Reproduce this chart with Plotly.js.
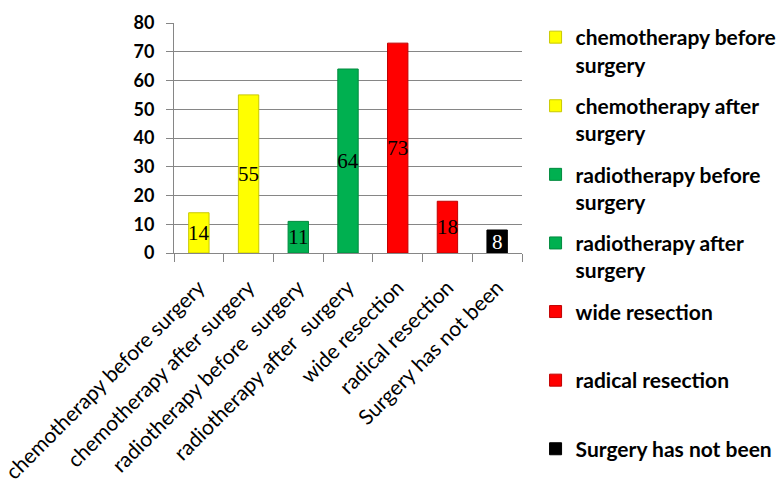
<!DOCTYPE html>
<html>
<head>
<meta charset="utf-8">
<script src="https://cdn.plot.ly/plotly-3.0.1.min.js"></script>
<style>html,body{margin:0;padding:0;background:#fff;}#chart{width:782px;height:495px;}</style>
</head>
<body>
<div id="chart"></div>
<script>
const categories = [
  "chemotherapy before surgery",
  "chemotherapy after surgery",
  "radiotherapy before  surgery",
  "radiotherapy after  surgery",
  "wide resection",
  "radical resection",
  "Surgery has not been"
];
const legendNames = [
  "chemotherapy before<br>surgery",
  "chemotherapy after<br>surgery",
  "radiotherapy before<br>surgery",
  "radiotherapy after<br>surgery",
  "wide resection<br>&nbsp;",
  "radical resection<br>&nbsp;",
  "Surgery has not been<br>&nbsp;"
];
const values = [14, 55, 11, 64, 73, 18, 8];
const colors = ["#FFFF00", "#FFFF00", "#00B050", "#00B050", "#FF0000", "#FF0000", "#000000"];
const lineColors = ["#C9C900", "#C9C900", "#008A3E", "#008A3E", "#C00000", "#C00000", "#000000"];
const labelColors = ["#000", "#000", "#000", "#000", "#000", "#000", "#fff"];

const traces = categories.map((c, i) => ({
  type: "bar",
  x: [c],
  y: [values[i]],
  name: legendNames[i],
  legendgroup: "g" + i,
  marker: {color: colors[i], line: {color: lineColors[i], width: 1}},
  text: [String(values[i])],
  textposition: "inside",
  insidetextanchor: "middle",
  textangle: 0,
  constraintext: "none",
  textfont: {family: "Liberation Serif, serif", size: 21, color: labelColors[i]},
  hoverinfo: "x+y"
}));

const layout = {
  width: 782, height: 495,
  margin: {l: 174, r: 260, t: 17, b: 0, autoexpand: false},
  paper_bgcolor: "#fff", plot_bgcolor: "#fff",
  barmode: "overlay",
  bargap: 0.59,
  showlegend: true,
  legend: {
    x: 1.039, xanchor: "left", y: 1.0, yanchor: "top",
    traceorder: "grouped", tracegroupgap: 11, valign: "top",
    font: {family: "Lato, sans-serif", size: 21, color: "#000", weight: "bold"},
    bgcolor: "rgba(0,0,0,0)"
  },
  xaxis: {
    type: "category",
    categoryorder: "array", categoryarray: categories,
    showline: true, linecolor: "#868686", linewidth: 1,
    ticks: "outside", ticklen: 8, tickcolor: "#868686", tickson: "boundaries",
    showgrid: false,
    tickangle: -45,
    ticklabelstandoff: 13,
    ticklabelshift: 0,
    tickfont: {family: "Lato, sans-serif", size: 21, color: "#000"},
    automargin: false
  },
  yaxis: {
    domain: [242 / 478, 472 / 478],
    range: [0, 80], dtick: 10,
    showline: true, linecolor: "#868686", linewidth: 1,
    ticks: "outside", ticklen: 7, tickcolor: "#868686",
    ticklabelstandoff: 8,
    showgrid: true, gridcolor: "#868686", gridwidth: 1,
    zeroline: false,
    tickfont: {family: "Lato, sans-serif", size: 18, color: "#000", weight: "bold"},
    automargin: false
  }
};

Plotly.newPlot("chart", traces, layout, {displayModeBar: false, staticPlot: true});
</script>
</body>
</html>
